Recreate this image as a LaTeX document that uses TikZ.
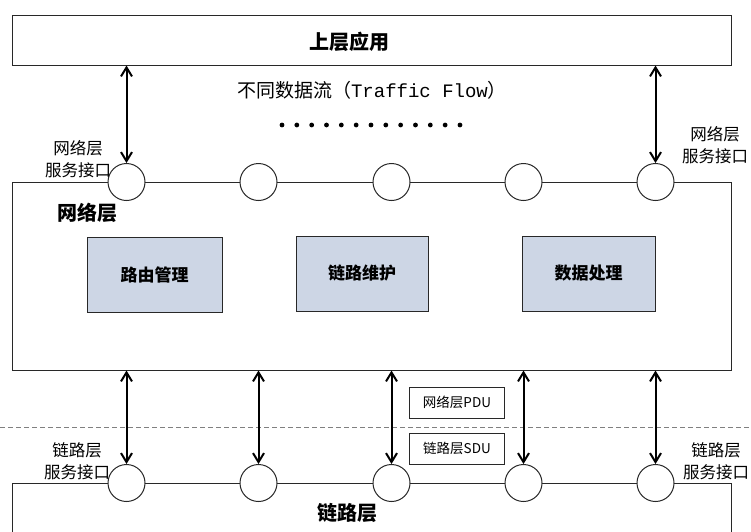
\documentclass[tikz,border=0pt]{standalone}
\usepackage{fontspec}
\setmainfont{Noto Sans CJK SC}
\newfontfamily\monof{Liberation Mono}
\usetikzlibrary{arrows.meta}
\definecolor{boxfill}{RGB}{205,214,229}
\definecolor{lineclr}{RGB}{40,40,40}
\begin{document}
\begin{tikzpicture}[x=1pt,y=-1pt,
  layer/.style={draw=lineclr, line width=1pt, fill=white, inner sep=0pt, rectangle},
  func/.style={draw=lineclr, line width=1pt, fill=boxfill, minimum height=75pt, inner sep=0pt,
    font=\bfseries\fontsize{17}{20}\selectfont},
  port/.style={circle, draw=lineclr, line width=1pt, fill=white, minimum size=37pt, inner sep=0pt},
  flow/.style={draw=black, line width=2pt, {Straight Barb[length=9pt,width=11pt]}-{Straight Barb[length=9pt,width=11pt]}},
  lbl/.style={font=\fontsize{16.5}{22}\selectfont, align=center, inner sep=0pt},
  title/.style={font=\bfseries\fontsize{20}{24}\selectfont, inner sep=0pt},
  pdu/.style={draw=lineclr, line width=1pt, minimum width=95pt, minimum height=31pt, inner sep=0pt,
    font=\fontsize{13.5}{15}\selectfont}
]
\useasboundingbox (0,0) rectangle (751,531);

% layers
\node[layer, minimum width=719pt, minimum height=50pt] (app) at (371.5,40) {};
\node[title] (applbl) at (349,42) {上层应用};
\node[layer, minimum width=719pt, minimum height=188pt] (net) at (371.5,276) {};
\node[title] (netlbl) at (87,213) {网络层};
\node[layer, minimum width=719pt, minimum height=80pt] (link) at (371.5,523) {};
\node[title] (linklbl) at (347,513) {链路层};

% function boxes
\node[func, minimum width=135pt] (f1) at (154.5,274.5) {路由管理};
\node[func, minimum width=132pt] (f2) at (362,273.5) {链路维护};
\node[func, minimum width=133pt] (f3) at (588.5,273.5) {数据处理};

% dashed separator
\coordinate (dl) at (0,427);
\coordinate (dr) at (751,427);
\draw[gray, line width=0.8pt, dash pattern=on 5pt off 3pt] (dl) -- (dr);

% ports
\foreach \n/\x in {1/126.5,2/258.5,3/391.5,4/523.5,5/655.5}{
  \node[port] (c\n) at (\x,182) {};
  \node[port] (d\n) at (\x,483) {};
}

% flows
\draw[flow] (app.south -| c1) -- (c1.north);
\draw[flow] (app.south -| c5) -- (c5.north);
\foreach \n in {1,...,5}{
  \draw[flow] (net.south -| d\n) -- (d\n.north);
}

% traffic flow text and dots
\node[font=\fontsize{19}{21}\selectfont, inner sep=0pt] (flowtxt) at (372,90) {不同数据流（{\monof Traffic Flow}）};
\foreach \i in {0,...,12}{
  \fill (282+14.83*\i,125) circle (2.4pt);
}

% interface labels
\node[lbl] (nsl) at (78,159) {网络层\\服务接口};
\node[lbl] (nsr) at (715,145) {网络层\\服务接口};
\node[lbl] (lsl) at (77,461) {链路层\\服务接口};
\node[lbl] (lsr) at (716,461) {链路层\\服务接口};

% PDU/SDU
\node[pdu] (pdu1) at (457,402.5) {网络层PDU};
\node[pdu] (sdu1) at (457,448.5) {链路层SDU};
\end{tikzpicture}
\end{document}
